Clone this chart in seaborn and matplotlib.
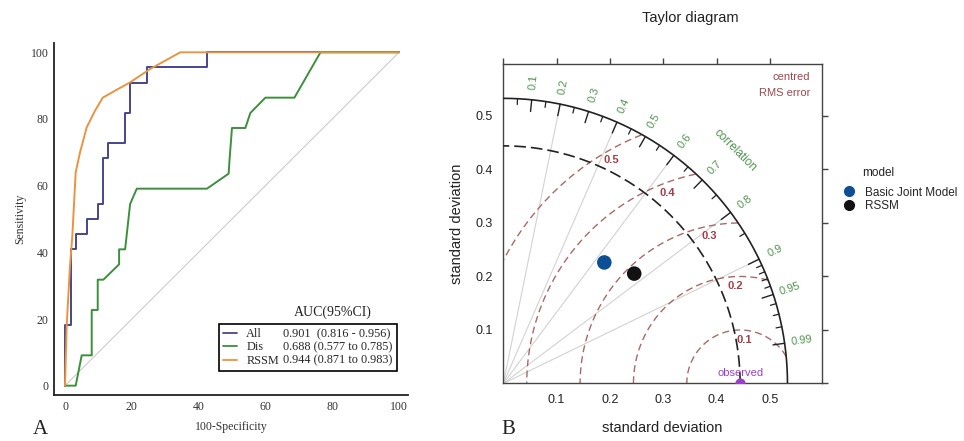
import numpy as np
import pandas as pd
import matplotlib
matplotlib.use("Agg")
import matplotlib.pyplot as plt
import seaborn as sns
from matplotlib.lines import Line2D

sns.set_theme(style="white")
plt.rcParams['font.family'] = ['Liberation Sans', 'DejaVu Sans']

# ---------------- ROC data (panel A) ----------------
roc_names = ["All", "Dis", "RSSM"]
roc_auc_text = ["0.901  (0.816 - 0.956)", "0.688 (0.577 to 0.785)", "0.944 (0.871 to 0.983)"]
roc_colors = ["#45458f", "#3c8f3c", "#ea9340"]

all_fpr = [0, 0, 1.7, 1.7, 3.2, 3.2, 6.5, 6.5, 10, 10, 11.3, 11.3, 13, 13, 18, 18, 19.5, 19.5, 24.5, 24.5, 42.5, 42.5, 100]
all_tpr = [0, 18.2, 18.2, 40.9, 40.9, 45.5, 45.5, 50, 50, 54.5, 54.5, 68.2, 68.2, 72.7, 72.7, 81.8, 81.8, 90.9, 90.9, 95.5, 95.5, 100, 100]

dis_fpr = [0, 3.2, 5, 8, 8, 9.8, 9.8, 11.5, 16.2, 16.2, 18, 19.5, 21.5, 42.5, 49, 49.3, 50, 54, 55.5, 60, 68.7, 76.5, 100]
dis_tpr = [0, 0, 9.1, 9.1, 22.7, 22.7, 31.8, 31.8, 36.4, 40.9, 40.9, 54.5, 59.1, 59.1, 63.6, 68.2, 77.3, 77.3, 81.8, 86.4, 86.4, 100, 100]

rssm_fpr = [0, 0.5, 1.5, 2.2, 3.2, 4.5, 6.5, 9, 11.3, 15, 19.5, 25.5, 34.5, 100]
rssm_tpr = [0, 18, 36, 45, 64, 70, 77.5, 82.5, 86.4, 88.5, 91, 95, 100, 100]

diag_x = [0, 100]
diag_y = [0, 100]

# ---------------- Taylor data (panel B) ----------------
ref_sd = 0.444
model_names = ["Basic Joint Model", "RSSM"]
model_sd = [0.295, 0.320]
model_cor = [0.642, 0.767]
model_colors = ["#0d4f94", "#121212"]
corr_lines = [0.2, 0.4, 0.6, 0.8, 0.9]
corr_major = [0.1, 0.2, 0.3, 0.4, 0.5, 0.6, 0.7, 0.8, 0.9, 0.95, 0.99]
corr_minor = [0.05, 0.15, 0.25, 0.35, 0.45, 0.55, 0.65, 0.75, 0.85,
              0.91, 0.92, 0.93, 0.94, 0.96, 0.97, 0.98]
rms_levels = [0.1, 0.2, 0.3, 0.4, 0.5]
rms_label_angles = [84, 93, 102, 111, 120]
sd_ticks = [0, 0.1, 0.2, 0.3, 0.4, 0.5]
sd_ticklabels = ["", "0.1", "0.2", "0.3", "0.4", "0.5"]

fig = plt.figure(figsize=(9.64, 4.41), dpi=100)
fig.patch.set_facecolor("white")

# ======================= Panel A =======================
serif = "Liberation Serif"
axL = fig.add_axes([0.056, 0.1043, 0.3672, 0.7982])
axL.set_facecolor("white")

roc_df = pd.concat([
    pd.DataFrame({"fpr": all_fpr, "tpr": all_tpr, "model": "All"}),
    pd.DataFrame({"fpr": dis_fpr, "tpr": dis_tpr, "model": "Dis"}),
    pd.DataFrame({"fpr": rssm_fpr, "tpr": rssm_tpr, "model": "RSSM"}),
], ignore_index=True)

axL.plot(diag_x, diag_y, color="#cccccc", lw=0.8, zorder=1)
sns.lineplot(data=roc_df, x="fpr", y="tpr", hue="model", hue_order=roc_names,
             palette=dict(zip(roc_names, roc_colors)), sort=False, estimator=None,
             lw=1.4, ax=axL, legend=False, zorder=3)

axL.set_xlim(-3.3, 102.7)
axL.set_ylim(-2.8, 102.8)
axL.set_xticks([0, 20, 40, 60, 80, 100])
axL.set_yticks([0, 20, 40, 60, 80, 100])
axL.set_xticks(np.arange(0, 101, 4), minor=True)
axL.set_yticks(np.arange(0, 101, 5), minor=True)
axL.tick_params(axis="both", which="major", direction="in", length=6, width=1.1,
                color="#222222", labelsize=8.5, pad=4)
axL.tick_params(axis="both", which="minor", direction="in", length=3.5, width=1.0,
                color="#222222")
for lab in axL.get_xticklabels() + axL.get_yticklabels():
    lab.set_fontfamily(serif)
    lab.set_color("#333333")
for s in ["top", "right"]:
    axL.spines[s].set_visible(False)
for s in ["left", "bottom"]:
    axL.spines[s].set_linewidth(1.3)
    axL.spines[s].set_color("#222222")
axL.set_xlabel("100-Specificity", fontsize=8.5, fontfamily=serif, color="#333333", labelpad=6)
axL.set_ylabel("Sensitivity", fontsize=8.5, fontfamily=serif, color="#333333", labelpad=3)

handles = [Line2D([], [], color=c, lw=1.3) for c in roc_colors]
blanks = [Line2D([], [], ls="none") for _ in roc_names]
leg = axL.legend(handles + blanks, roc_names + roc_auc_text, ncol=2,
                 loc="lower right", bbox_to_anchor=(0.969, 0.068), borderaxespad=0,
                 frameon=True, fancybox=False, edgecolor="black",
                 prop={"family": serif, "size": 8.8}, handlelength=1.1,
                 handletextpad=0.8, columnspacing=-1.55, labelspacing=0.12,
                 borderpad=0.35)
leg.get_frame().set_linewidth(1.2)
leg.get_frame().set_alpha(None)
axL.annotate("AUC(95%CI)", xy=(0.64, 1.0), xycoords=leg, xytext=(0, 3),
             textcoords="offset points", ha="center", va="bottom",
             fontsize=10, fontfamily=serif, color="#222222")

fig.text(40 / 964, 1 - 430 / 441, "A", fontsize=15, fontfamily=serif,
         ha="center", va="center", color="#222222")

# ======================= Panel B =======================
axR = fig.add_axes([0.5221, 0.1304, 0.3303, 0.7245])
axR.set_facecolor("white")
lim = 0.597
axR.set_xlim(0, lim)
axR.set_ylim(0, lim)
sd_max = 1.2 * ref_sd

# correlation lines
for c in corr_lines:
    a = np.arccos(c)
    axR.plot([0, sd_max * np.cos(a)], [0, sd_max * np.sin(a)], color="#d2d2d2", lw=0.8, zorder=1)

# centred RMS contours
t = np.linspace(0, np.pi, 800)
for r, ang in zip(rms_levels, rms_label_angles):
    x = ref_sd + r * np.cos(t)
    y = r * np.sin(t)
    m = (np.hypot(x, y) <= sd_max) & (x >= 0)
    axR.plot(np.where(m, x, np.nan), np.where(m, y, np.nan), ls=(0, (5, 3)),
             color="#a86a66", lw=1.0, zorder=2)
    rr = r - 0.018
    axR.text(ref_sd + rr * np.cos(np.radians(ang)), rr * np.sin(np.radians(ang)),
             f"{r:g}", color="#a0404a", fontsize=8, fontweight="bold",
             ha="center", va="center", zorder=5)

# reference sd arc and outer arc
th = np.linspace(0, np.pi / 2, 400)
axR.plot(ref_sd * np.cos(th), ref_sd * np.sin(th), color="#222222", lw=1.2,
         ls=(0, (7, 3)), zorder=3)
axR.plot(sd_max * np.cos(th), sd_max * np.sin(th), color="#222222", lw=1.2, zorder=3)

# correlation ticks and labels
for c in corr_major:
    a = np.arccos(c)
    axR.plot([sd_max * np.cos(a), (sd_max - 0.022) * np.cos(a)],
             [sd_max * np.sin(a), (sd_max - 0.022) * np.sin(a)], color="#222222", lw=1.0, zorder=3)
    rl = 0.566
    axR.text(rl * np.cos(a), rl * np.sin(a), f"{c:g}", rotation=np.degrees(a),
             rotation_mode="anchor", ha="center", va="center", fontsize=8,
             color="#4e944e", clip_on=False)
for c in corr_minor:
    a = np.arccos(c)
    axR.plot([sd_max * np.cos(a), (sd_max - 0.011) * np.cos(a)],
             [sd_max * np.sin(a), (sd_max - 0.011) * np.sin(a)], color="#222222", lw=0.9, zorder=3)
axR.text(0.435, 0.436, "correlation", rotation=-45, ha="center", va="center",
         fontsize=8.5, color="#4e944e", rotation_mode="anchor")
axR.text(0.575, 0.573, "centred", ha="right", va="center", fontsize=8, color="#9c4650")
axR.text(0.575, 0.5435, "RMS error", ha="right", va="center", fontsize=8, color="#9c4650")

# observed point
axR.scatter([ref_sd], [0], s=40, color="#9b3fc8", zorder=6, clip_on=True)
axR.text(ref_sd, 0.019, "observed", ha="center", va="center", fontsize=8, color="#9b3fc8")

# model points
pts = pd.DataFrame({
    "model": model_names,
    "x": np.array(model_sd) * np.array(model_cor),
    "y": np.array(model_sd) * np.sin(np.arccos(np.array(model_cor))),
})
sns.scatterplot(data=pts, x="x", y="y", hue="model", hue_order=model_names,
                palette=dict(zip(model_names, model_colors)), s=110,
                edgecolor="none", ax=axR, legend=False, zorder=7)

axR.set_xticks(sd_ticks)
axR.set_xticklabels(sd_ticklabels)
axR.set_yticks(sd_ticks)
axR.set_yticklabels(sd_ticklabels)
axR.tick_params(axis="both", direction="out", length=4.5, width=1.0, color="#444444",
                labelsize=9, labelcolor="#222222", top=True, right=True,
                labeltop=False, labelright=False, pad=3)
for s in axR.spines.values():
    s.set_linewidth(1.0)
    s.set_color("#444444")
axR.set_xlabel("standard deviation", fontsize=10.5, color="#222222", labelpad=11)
axR.set_ylabel("standard deviation", fontsize=10.5, color="#222222", labelpad=8)

mh = [Line2D([], [], ls="none", marker="o", markersize=7, color=c) for c in model_colors]
axR.legend(mh, model_names, loc="upper left", bbox_to_anchor=(843 / 964, 0.577),
           bbox_transform=fig.transFigure, frameon=False, fontsize=8.5,
           handlelength=1.0, handletextpad=0.9, labelspacing=0.15, borderpad=0,
           borderaxespad=0)
fig.text(878 / 964, 1 - 173 / 441, "model", ha="center", va="center", fontsize=8.5,
         color="#222222")

fig.text(690 / 964, 1 - 18 / 441, "Taylor diagram", ha="center", va="center",
         fontsize=10.5, color="#222222")
fig.text(508 / 964, 1 - 430 / 441, "B", fontsize=15, fontfamily=serif,
         ha="center", va="center", color="#222222")

fig.savefig("out.png", dpi=100, facecolor="white")
